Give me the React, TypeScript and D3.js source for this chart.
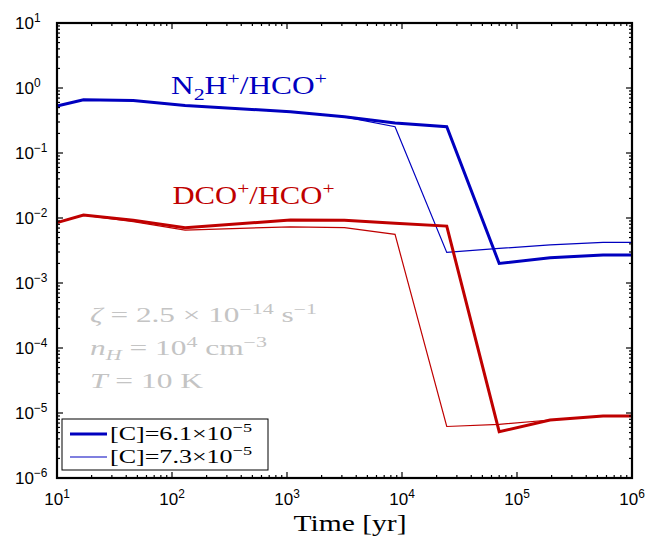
import React from "react";
import * as d3 from "d3";

// ---- data ----
const times = [10, 17, 46, 130, 1070, 3160, 8700, 24500, 70000, 194000, 560000, 1000000];
const n2hThick = [0.53, 0.66, 0.64, 0.54, 0.43, 0.36, 0.29, 0.254, 0.002, 0.00245, 0.0027, 0.0027];
const n2hThin = [0.53, 0.66, 0.64, 0.54, 0.43, 0.36, 0.254, 0.00295, 0.0034, 0.00385, 0.00423, 0.00423];
const dcoThick = [0.0085, 0.0111, 0.0092, 0.0071, 0.0093, 0.0092, 0.0083, 0.0075, 5.15e-6, 7.8e-6, 9.0e-6, 9.0e-6];
const dcoThin = [0.0085, 0.0111, 0.0088, 0.00653, 0.0073, 0.0071, 0.0056, 6.2e-6, 6.7e-6, 7.8e-6, 9.0e-6, 9.0e-6];
const xTickExps = [1, 2, 3, 4, 5, 6];
const yTickExps = [1, 0, -1, -2, -3, -4, -5, -6];
const legendAbund = ["6.1", "7.3"];
const legendExp = "−5";

const W = 659;
const H = 540;
const BLUE = "#0000bf";
const RED = "#bf0000";
const GREY = "#c4c4c4";
const SERIF = "'Liberation Serif', 'DejaVu Serif', serif";
const SANS = "'Liberation Sans', Arial, Helvetica, sans-serif";

type Part = [string, "n" | "sup" | "sub", boolean?];

function MathText(props: {
  x: number;
  y: number;
  parts: Part[];
  size: number;
  fill: string;
  anchor?: string;
  textLength?: number;
  family?: string;
}) {
  const { x, y, parts, size, fill, anchor, textLength, family } = props;
  let cur = 0;
  return (
    <text
      x={x}
      y={y}
      fill={fill}
      fontSize={size}
      fontFamily={family || SERIF}
      textAnchor={anchor || "start"}
      textLength={textLength}
      lengthAdjust={textLength ? "spacingAndGlyphs" : undefined}
    >
      {parts.map(([t, kind, it], i) => {
        const target = kind === "sup" ? -0.42 * size : kind === "sub" ? 0.25 * size : 0;
        const dy = target - cur;
        cur = target;
        return (
          <tspan
            key={i}
            dy={dy}
            fontSize={kind === "n" ? size : size * 0.7}
            fontStyle={it ? "italic" : "normal"}
          >
            {t}
          </tspan>
        );
      })}
    </text>
  );
}

export default function App() {
  const x = d3.scaleLog().domain([10, 1e6]).range([57, 632]);
  const y = d3.scaleLog().domain([1e-6, 10]).range([478, 23]);
  const [x0, x1] = x.range();
  const [y0, y1] = y.range();

  const line = d3
    .line<number>()
    .x((_, i) => x(times[i]))
    .y((d) => y(d));

  const xMinor: number[] = [];
  for (let e = 1; e < 6; e++) for (let m = 2; m <= 9; m++) xMinor.push(m * Math.pow(10, e));
  const yMinor: number[] = [];
  for (let e = -6; e < 1; e++) for (let m = 2; m <= 9; m++) yMinor.push(m * Math.pow(10, e));

  const MAJ = 6;
  const MIN = 3;

  return (
    <svg
      width={W}
      height={H}
      style={{ position: "absolute", left: 0, top: 0, background: "#fff" }}
    >
      <rect x={0} y={0} width={W} height={H} fill="#fff" />
      <g fill="none" strokeLinejoin="miter">
        <path d={line(n2hThin) || ""} stroke={BLUE} strokeWidth={1.2} />
        <path d={line(dcoThin) || ""} stroke={RED} strokeWidth={1.2} />
        <path d={line(n2hThick) || ""} stroke={BLUE} strokeWidth={3} />
        <path d={line(dcoThick) || ""} stroke={RED} strokeWidth={3} />
      </g>

      {/* ticks */}
      <g stroke="#000" strokeWidth={1.2}>
        {xTickExps.map((e) => {
          const px = x(Math.pow(10, e));
          return (
            <g key={"xm" + e}>
              <line x1={px} x2={px} y1={y0} y2={y0 - MAJ} />
              <line x1={px} x2={px} y1={y1} y2={y1 + MAJ} />
            </g>
          );
        })}
        {xMinor.map((v) => {
          const px = x(v);
          return (
            <g key={"xn" + v}>
              <line x1={px} x2={px} y1={y0} y2={y0 - MIN} />
              <line x1={px} x2={px} y1={y1} y2={y1 + MIN} />
            </g>
          );
        })}
        {yTickExps.map((e) => {
          const py = y(Math.pow(10, e));
          return (
            <g key={"ym" + e}>
              <line x1={x0} x2={x0 + MAJ} y1={py} y2={py} />
              <line x1={x1} x2={x1 - MAJ} y1={py} y2={py} />
            </g>
          );
        })}
        {yMinor.map((v) => {
          const py = y(v);
          return (
            <g key={"yn" + v}>
              <line x1={x0} x2={x0 + MIN} y1={py} y2={py} />
              <line x1={x1} x2={x1 - MIN} y1={py} y2={py} />
            </g>
          );
        })}
      </g>
      <rect x={x0} y={y1} width={x1 - x0} height={y0 - y1} fill="none" stroke="#000" strokeWidth={2.2} />

      {/* tick labels */}
      {xTickExps.map((e) => (
        <MathText
          key={"xl" + e}
          x={x(Math.pow(10, e))}
          y={505}
          anchor="middle"
          size={17}
          fill="#000"
          family={SANS}
          parts={[["10", "n"], [String(e), "sup"]]}
        />
      ))}
      {yTickExps.map((e) => (
        <MathText
          key={"yl" + e}
          x={15}
          y={y(Math.pow(10, e)) + 6}
          size={17}
          fill="#000"
          family={SANS}
          parts={[["10", "n"], [e < 0 ? "−" + Math.abs(e) : String(e), "sup"]]}
        />
      ))}

      {/* series labels */}
      <MathText
        x={171}
        y={94}
        size={25}
        fill={BLUE}
        textLength={156}
        parts={[["N", "n"], ["2", "sub"], ["H", "n"], ["+", "sup"], ["/HCO", "n"], ["+", "sup"]]}
      />
      <MathText
        x={172.5}
        y={204}
        size={25}
        fill={RED}
        textLength={162}
        parts={[["DCO", "n"], ["+", "sup"], ["/HCO", "n"], ["+", "sup"]]}
      />

      {/* annotation */}
      <MathText
        x={90}
        y={322}
        size={20}
        fill={GREY}
        textLength={227}
        parts={[["ζ", "n", true], [" = 2.5 × 10", "n"], ["−14", "sup"], [" s", "n"], ["−1", "sup"]]}
      />
      <MathText
        x={90}
        y={355}
        size={20}
        fill={GREY}
        textLength={177}
        parts={[["n", "n", true], ["H", "sub", true], [" = 10", "n"], ["4", "sup"], [" cm", "n"], ["−3", "sup"]]}
      />
      <MathText
        x={90}
        y={388}
        size={20}
        fill={GREY}
        textLength={113}
        parts={[["T", "n", true], [" = 10 K", "n"]]}
      />

      {/* legend */}
      <rect x={62} y={419} width={206} height={51} fill="#fff" stroke="#000" strokeWidth={1} />
      {legendAbund.map((a, i) => (
        <g key={"lg" + i}>
          <line
            x1={70}
            x2={107}
            y1={434 + i * 23}
            y2={434 + i * 23}
            stroke={BLUE}
            strokeWidth={i === 0 ? 3 : 1.2}
          />
          <MathText
            x={110}
            y={440 + i * 23}
            size={19}
            fill="#000"
            textLength={142}
            parts={[["[C]=" + a + "×10", "n"], [legendExp, "sup"]]}
          />
        </g>
      ))}

      {/* axis title */}
      <text
        x={350}
        y={531}
        textAnchor="middle"
        fontFamily={SERIF}
        fontSize={24}
        textLength={113}
        lengthAdjust="spacingAndGlyphs"
        fill="#000"
      >
        Time [yr]
      </text>
    </svg>
  );
}
